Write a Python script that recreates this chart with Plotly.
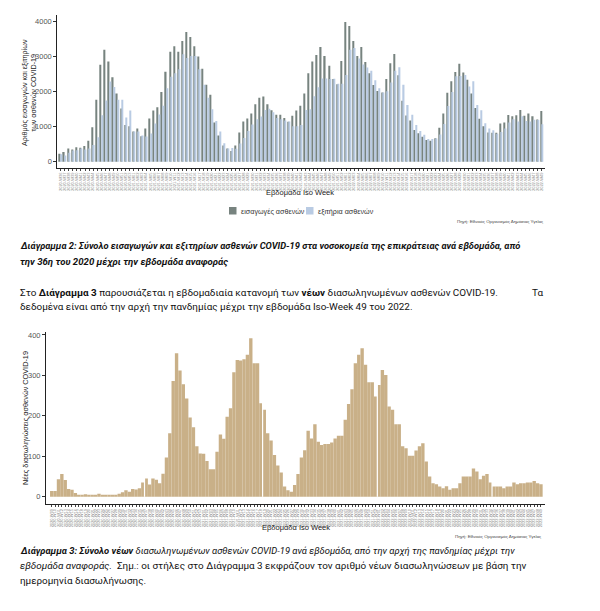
import plotly.graph_objects as go

# page body has an 8px default margin, so the figure is 8px smaller and coordinates shift
OFF = 8
W, H = 600 - OFF, 611 - OFF


def px(x):
    return (x - OFF) / W


def py(y):
    return 1 - (y - OFF) / H


# ---------------- data ----------------
weeks_adm = ([f"2020-W{w:02d}" for w in range(36, 54)]
             + [f"2021-W{w:02d}" for w in range(1, 53)]
             + [f"2022-W{w:02d}" for w in range(1, 50)])

admissions = [
    230, 275, 380, 350, 415, 400, 445, 600, 985, 1770,
    2770, 3195, 2865, 2410, 1945, 1520, 1045, 1015, 865, 950,
    730, 950, 1235, 1460, 1555, 1990, 2570, 3140, 3300, 3140,
    3450, 3705, 3565, 3300, 3005, 2655, 2200, 1915, 1120, 750,
    465, 380, 305, 465, 835, 1145, 1235, 1375, 1640, 1830,
    1860, 1640, 1470, 1340, 1340, 1250, 1140, 1310, 1460, 1600,
    1945, 2530, 2860, 3050, 3280, 3020, 2740, 2360, 2210, 2880,
    3990, 3880, 3450, 3020, 3280, 2850, 2525, 2190, 2020, 1980,
    2360, 2810, 3080, 2470, 1740, 1320, 1180, 905, 810, 716,
    620, 595, 670, 970, 1375, 1970, 2295, 2560, 2795, 2550,
    2340, 1945, 1535, 1225, 1015, 835, 825, 825, 1090, 1120,
    1335, 1300, 1330, 1480, 1310, 1375, 1300, 1205, 1450,
]

discharges = [
    210, 180, 255, 320, 330, 380, 350, 380, 475, 700,
    1330, 1750, 2290, 2135, 1770, 1770, 1260, 1460, 865, 860,
    750, 720, 805, 1090, 1345, 1595, 2100, 2430, 2530, 2640,
    3070, 2960, 3020, 3020, 2640, 2200, 1830, 1500, 1160, 860,
    530, 380, 390, 370, 520, 680, 880, 1060, 1210, 1290,
    1480, 1510, 1410, 1250, 1210, 1180, 1150, 1010, 1010, 1050,
    1480, 1500, 1870, 2130, 2380, 2380, 2360, 2370, 2230, 2230,
    2480, 3200, 3250, 2950, 2780, 2690, 2600, 2330, 2100, 1980,
    2010, 2260, 2600, 2700, 2200, 1620, 1340, 1050, 880, 770,
    650, 650, 660, 780, 1080, 1590, 1990, 2440, 2450, 2480,
    2150, 2300, 1620, 1470, 1100, 950, 900, 800, 850, 950,
    1120, 1210, 1150, 1300, 1160, 1150, 1200, 1190, 1070,
]

weeks_int = ([f"2020-W{w:02d}" for w in range(9, 54)]
             + [f"2021-W{w:02d}" for w in range(1, 53)]
             + [f"2022-W{w:02d}" for w in range(1, 50)])

intubations = [
    14, 14, 43, 56, 41, 19, 17, 9, 4, 4,
    6, 4, 3, 5, 7, 3, 4, 4, 3, 3,
    7, 11, 16, 12, 19, 18, 21, 35, 45, 30,
    45, 42, 33, 57, 97, 157, 286, 355, 312, 278,
    243, 196, 172, 125, 107, 106, 88, 68, 68, 111,
    154, 143, 198, 219, 308, 338, 337, 340, 351, 392,
    330, 330, 231, 215, 157, 139, 103, 77, 60, 25,
    16, 12, 29, 56, 97, 115, 163, 144, 179, 136,
    128, 130, 130, 134, 144, 151, 151, 190, 229, 266,
    330, 351, 367, 326, 283, 283, 248, 276, 313, 301,
    223, 215, 179, 179, 125, 120, 101, 101, 114, 125,
    132, 87, 50, 33, 31, 25, 21, 26, 17, 21,
    21, 33, 50, 50, 50, 70, 62, 43, 52, 56,
    35, 25, 25, 25, 21, 25, 25, 35, 31, 33,
    33, 35, 35, 39, 33, 31,
]

y1_ticks = [0, 1000, 2000, 3000, 4000]
y2_ticks = [0, 100, 200, 300, 400]

if not (len(admissions) == len(discharges) == len(weeks_adm)):
    raise ValueError(f"len mismatch 1: {len(admissions)} {len(discharges)} {len(weeks_adm)}")
if len(intubations) != len(weeks_int):
    raise ValueError(f"len mismatch 2: {len(intubations)} {len(weeks_int)}")

# ---------------- styles ----------------
DARK = "#77837f"
LIGHT = "#b9cbe3"
TAN = "#c9b088"
AXIS_FONT = "Liberation Sans, Arial, sans-serif"
TEXT_FONT = "Roboto, Noto Sans, sans-serif"
TICK_GREY = "#555555"

fig = go.Figure()

fig.add_trace(go.Bar(x=weeks_adm, y=admissions, name="εισαγωγές ασθενών",
                     marker=dict(color=DARK, line=dict(width=0)),
                     xaxis="x", yaxis="y", showlegend=False))
fig.add_trace(go.Bar(x=weeks_adm, y=discharges, name="εξιτήρια ασθενών",
                     marker=dict(color=LIGHT, line=dict(width=0)),
                     xaxis="x", yaxis="y", showlegend=False))
fig.add_trace(go.Bar(x=weeks_int, y=intubations, name="Νέες διασωληνώσεις",
                     marker=dict(color=TAN, line=dict(width=0)), width=1.0,
                     xaxis="x2", yaxis="y2", showlegend=False))

n1 = len(weeks_adm)
n2 = len(weeks_int)

common_x = dict(type="category", showline=True, linecolor="#222222", linewidth=1,
                ticks="outside", ticklen=2, tickcolor="#444444", tickwidth=0.5,
                tickangle=-90, tickfont=dict(size=4, color="#8a8a8a", family=AXIS_FONT),
                tickmode="linear", dtick=1, showgrid=False, zeroline=False,
                automargin=False, fixedrange=True)
common_y = dict(showline=True, linecolor="#222222", linewidth=1, ticks="outside",
                ticklen=3, tickcolor="#333333", tickwidth=0.8,
                tickfont=dict(size=7.5, color=TICK_GREY, family=AXIS_FONT),
                showgrid=False, zeroline=False, automargin=False, fixedrange=True,
                tickmode="array")

fig.update_layout(
    width=W, height=H, autosize=False,
    margin=dict(l=0, r=0, t=0, b=0),
    paper_bgcolor="white", plot_bgcolor="white",
    barmode="group", bargap=0.3, bargroupgap=0.1,
    xaxis=dict(common_x, domain=[px(57.3), px(545)], range=[-0.8, n1 - 0.2],
               anchor="y"),
    yaxis=dict(common_y, domain=[py(168), py(15)], range=[-180, 4191],
               tickvals=y1_ticks, anchor="x"),
    xaxis2=dict(common_x, domain=[px(46), px(545)], range=[-1.7, n2 + 0.2],
                anchor="y2"),
    yaxis2=dict(common_y, domain=[py(504.3), py(331.7)], range=[-18.8, 408],
                tickvals=y2_ticks, anchor="x2"),
    font=dict(family=AXIS_FONT),
)

# thin white separators visible inside chart 2 bars
shapes = []
for xb in [27.5, 62.5, 96.5, 130.5]:
    shapes.append(dict(type="line", xref="x2", yref="y2", x0=xb, x1=xb, y0=0, y1=405,
                       line=dict(color="white", width=1.2), layer="above"))

# manual legend squares for chart 1
shapes.append(dict(type="rect", xref="paper", yref="paper",
                   x0=px(229), x1=px(236.5), y0=py(214.5), y1=py(207),
                   fillcolor=DARK, line=dict(width=0)))
shapes.append(dict(type="rect", xref="paper", yref="paper",
                   x0=px(306), x1=px(313.5), y0=py(214.5), y1=py(207),
                   fillcolor=LIGHT, line=dict(width=0)))
fig.update_layout(shapes=shapes)

ann = []


def add_text(x, y, text, size, xanchor="left", family=TEXT_FONT, color="#111111",
             angle=0, yanchor="middle", align="left"):
    ann.append(dict(x=px(x), y=py(y), xref="paper", yref="paper", text=text,
                    showarrow=False, xanchor=xanchor, yanchor=yanchor,
                    textangle=angle, align=align,
                    font=dict(size=size, family=family, color=color)))


# chart 1 texts
add_text(29, 93, "Αριθμός εισαγωγών και εξιτηρίων<br>των ασθενών COVID-19", 7.2,
         xanchor="center", family=AXIS_FONT, color="#222222", angle=-90, align="center")
add_text(300, 192.5, "Εβδομάδα Iso Week", 7.5, xanchor="center", family=AXIS_FONT,
         color="#222222")
add_text(238.5, 211, "εισαγωγές ασθενών", 7.2, family=AXIS_FONT, color="#333333")
add_text(316, 211, "εξιτήρια ασθενών", 7.2, family=AXIS_FONT, color="#333333")
add_text(545, 222, "Πηγή: Εθνικός Οργανισμός Δημόσιας Υγείας", 4.4, xanchor="right",
         family=AXIS_FONT, color="#444444")

# caption of chart 1
add_text(18, 245, "<b><i>Διάγραμμα 2: Σύνολο εισαγωγών και εξιτηρίων ασθενών COVID-19 "
         "στα νοσοκομεία της επικράτειας ανά εβδομάδα, από</i></b>", 9.3)
add_text(18, 261, "<b><i>την 36η του 2020 μέχρι την εβδομάδα αναφοράς</i></b>", 9.6)

# paragraph
add_text(18, 292, "Στο <b>Διάγραμμα 3</b> παρουσιάζεται η εβδομαδιαία κατανομή των "
         "<b>νέων</b> διασωληνωμένων ασθενών COVID-19.", 9.9)
add_text(545, 292, "Τα", 9.9, xanchor="right")
add_text(18, 306, "δεδομένα είναι από την αρχή την πανδημίας μέχρι την εβδομάδα "
         "Iso-Week 49 του 2022.", 9.9)

# chart 2 texts
add_text(25.5, 418.5, "Νέες διασωληνώσεις ασθενών COVID-19", 7.3, xanchor="center",
         family=AXIS_FONT, color="#222222", angle=-90)
add_text(296, 527, "Εβδομάδα Iso Week", 7.5, xanchor="center", family=AXIS_FONT,
         color="#222222")
add_text(543, 536.5, "Πηγή: Εθνικός Οργανισμός Δημόσιας Υγείας", 4.4, xanchor="right",
         family=AXIS_FONT, color="#444444")

# caption of chart 2
add_text(18, 550, "<b><i>Διάγραμμα 3: Σύνολο νέων</i></b><i> διασωληνωμένων ασθενών "
         "COVID-19 ανά εβδομάδα, από την αρχή της πανδημίας μέχρι την</i>", 9.4)
add_text(18, 565.5, "<i>εβδομάδα αναφοράς.</i>  Σημ.: οι στήλες στο Διάγραμμα 3 "
         "εκφράζουν τον αριθμό νέων διασωληνώσεων με βάση την", 9.9)
add_text(18, 580.5, "ημερομηνία διασωλήνωσης.", 9.9)

fig.update_layout(annotations=ann)

fig.write_html("out.html")
